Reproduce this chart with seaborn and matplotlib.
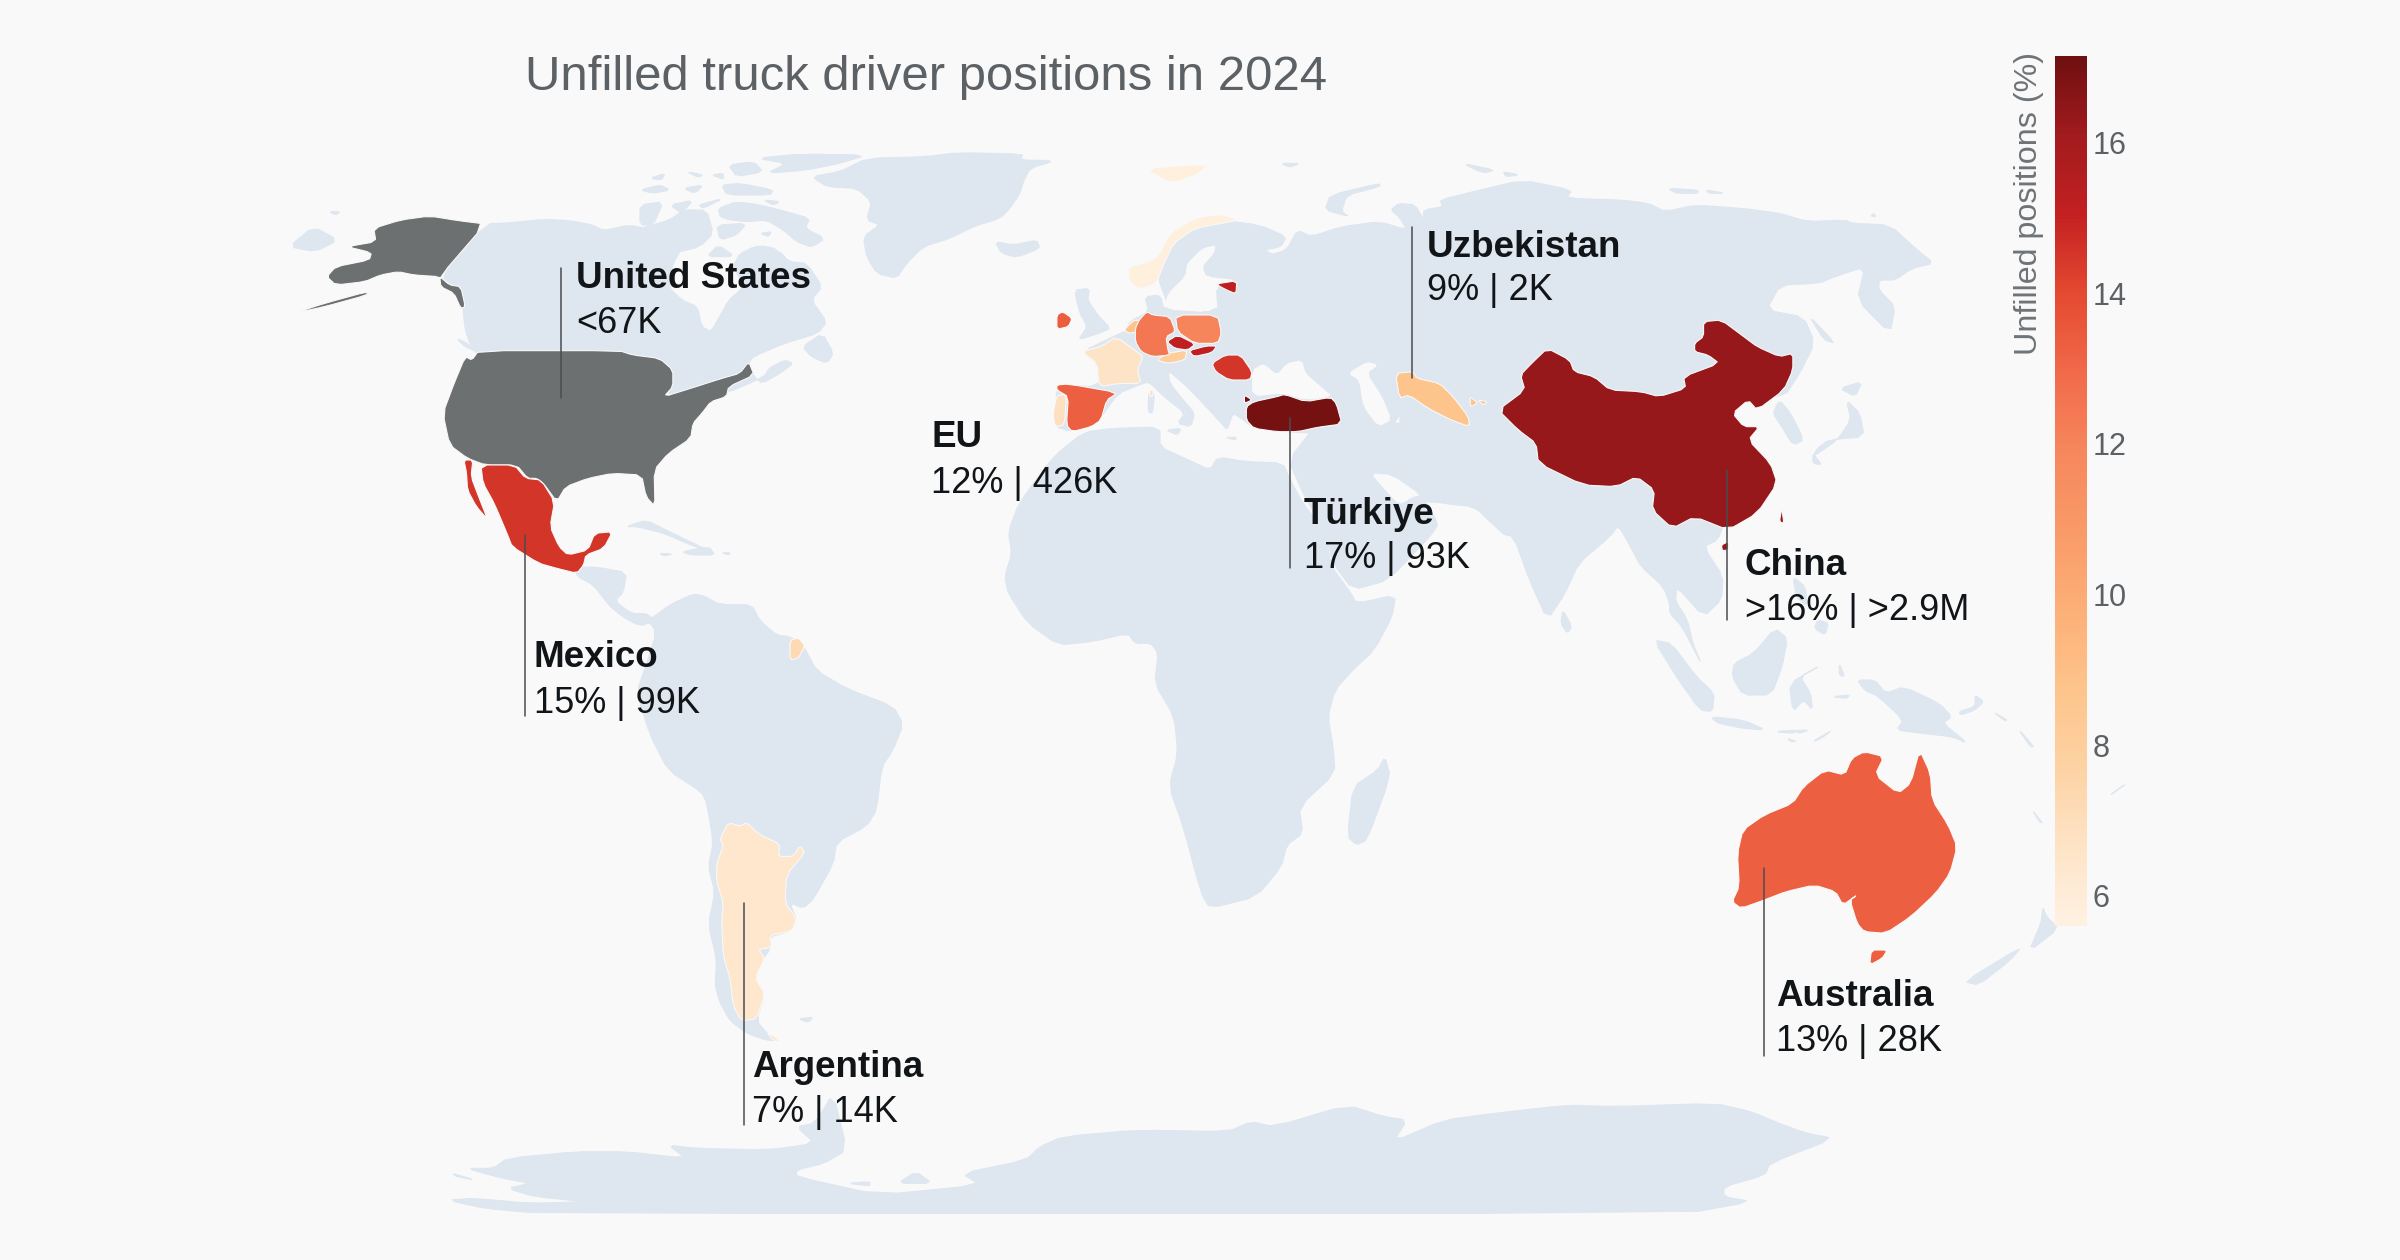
import numpy as np
import seaborn as sns
import matplotlib
matplotlib.use('Agg')
import matplotlib.pyplot as plt
from matplotlib.cm import ScalarMappable
from matplotlib.colors import Normalize

BG = '#f9f9f9'
LAND = '#dee6f0'
NO_DATA = '#6d7071'
INK = '#111518'
GREY_TEXT = '#5c6166'
BAR_LABEL_GREY = '#6e7378'

TITLE = 'Unfilled truck driver positions in 2024'
BAR_LABEL = 'Unfilled positions (%)'
BAR_TICKS = [6, 8, 10, 12, 14, 16]
BAR_MIN, BAR_MAX = 5.6, 17.15
RAMP = ['#fff1e2', '#fee3c6', '#fdd2a3', '#fdc48b', '#fcaf77', '#f99a68',
        '#f6875c', '#f16a4a', '#e44a30', '#c42021', '#a21b1e', '#6f0f10']

COUNTRIES = ['Norway', 'France', 'Portugal', 'Argentina', 'Guiana', 'Netherlands', 'Austria',
             'Uzbekistan', 'Germany', 'Poland', 'Spain', 'Ireland', 'Australia', 'Mexico',
             'Romania', 'Czechia', 'Slovakia', 'Estonia', 'China', 'Turkiye']
SHADES = [5.8, 6.6, 6.9, 6.4, 7.2, 8.7, 8, 8.8, 12.5, 12, 13.3, 13.4, 13.3, 14.5,
          14.5, 15.2, 15.2, 15.2, 16.3, 17]

LABEL_NAMES = ['United States', 'EU', 'Türkiye', 'Uzbekistan', 'China', 'Mexico', 'Argentina', 'Australia']
LABEL_VALUES = ['<67K', '12% | 426K', '17% | 93K', '9% | 2K', '>16% | >2.9M', '15% | 99K', '7% | 14K', '13% | 28K']
LABEL_X = [576, 931, 1304, 1427, 1745, 534, 752, 1776]
LABEL_NAME_Y = [288, 447, 524, 257, 575, 667, 1077, 1006]
LABEL_VALUE_Y = [333, 493, 568, 300, 620, 713, 1122, 1051]
LEADER_X = [561, None, 1290, 1412, 1727, 525, 744, 1764]
LEADER_TOP = [268, None, 418, 227, 470, 535, 903, 868]
LEADER_BOTTOM = [398, None, 568, 378, 620, 716, 1125, 1056]

SHEETS = {
    'A': (280, 130, 2.24, 3), 'B': (640, 130, 3, 3), 'C': (900, 200, 2.613, 3),
    'D': (1400, 200, 2.24, 3), 'E': (560, 560, 3, 2.8), 'F': (960, 460, 2.8, 3),
    'G': (1600, 520, 2.8, 3), 'H': (1100, 130, 1.823, 3), 'I': (420, 1080, 1.089, 3),
}

LAND_SHAPES = [
    # canada and arctic
    ('A', [(460, 282), (520, 278), (590, 268), (650, 272), (700, 285), (725, 302), (780, 285), (840, 300),
           (870, 290), (905, 300), (930, 325), (905, 345), (880, 400), (870, 470), (900, 510), (935, 530),
           (945, 590), (965, 605), (985, 560), (1005, 510), (1040, 470), (1015, 410), (1030, 370), (1075, 345),
           (1120, 365), (1140, 395), (1180, 400), (1215, 470), (1190, 510), (1225, 575), (1205, 610),
           (1130, 640), (1060, 680), (1050, 700), (1062, 740), (1080, 760), (1120, 730), (1150, 700),
           (1130, 690), (1095, 715), (1085, 740), (1000, 790), (860, 800), (860, 700), (760, 680), (445, 680),
           (425, 640), (415, 600), (410, 540), (405, 480), (358, 440)]),
    ('A', [(1170, 650), (1215, 610), (1240, 670), (1225, 700), (1190, 680)]),
    ('A', [(20, 350), (75, 290), (130, 330), (80, 365)]),
    ('A', [(110, 245), (135, 245), (125, 255)]),
    ('A', [(395, 625), (420, 640), (440, 665), (415, 650)]),
    ('B', [(235, 235), (290, 215), (360, 225), (420, 240), (510, 265), (495, 295), (555, 325), (515, 352),
           (470, 335), (430, 300), (380, 270), (320, 275), (270, 270), (240, 260)]),
    ('B', [(230, 285), (320, 280), (290, 315), (240, 330)]),
    ('B', [(200, 380), (235, 345), (285, 380)]),
    ('B', [(320, 355), (400, 350), (420, 380), (360, 370)]),
    ('B', [(360, 310), (395, 305), (385, 320)]),
    ('B', [(350, 85), (480, 72), (680, 75), (600, 100), (500, 120), (380, 130), (440, 100)]),
    ('B', [(265, 105), (340, 95), (370, 125), (290, 140)]),
    ('B', [(300, 160), (400, 180), (390, 195), (260, 195), (245, 165)]),
    ('B', [(130, 175), (190, 165), (165, 190)]),
    ('B', [(140, 125), (190, 135), (175, 142)]),
    ('B', [(30, 145), (75, 130), (65, 150)]),
    ('B', [(90, 225), (160, 210), (125, 250)]),
    ('B', [(175, 225), (250, 205), (190, 235)]),
    ('B', [(0, 180), (60, 165), (90, 180), (40, 190)]),
    ('B', [(215, 135), (250, 130), (250, 148)]),
    ('B', [(370, 210), (420, 215), (400, 225)]),
    ('B', [(0, 225), (70, 215), (40, 285), (0, 285)]),
    ('B', [(0, 295), (90, 270), (130, 240), (200, 240), (220, 310), (180, 350), (100, 370), (0, 370)]),
    ('B', [(515, 140), (600, 125), (680, 85), (860, 80), (950, 68), (1150, 72), (1140, 90), (1245, 92),
           (1170, 115), (1150, 155), (1140, 190), (1110, 235), (1080, 265), (1000, 290), (930, 325), (850, 350),
           (800, 400), (770, 445), (710, 430), (680, 380), (670, 320), (720, 285), (680, 270), (695, 215),
           (650, 175), (560, 170)]),
    ('B', [(1065, 335), (1120, 345), (1190, 330), (1200, 355), (1130, 382), (1085, 370)]),
    # caribbean and central america
    ('A', [(775, 1190), (820, 1170), (880, 1210), (965, 1265), (920, 1245), (860, 1210), (800, 1190)]),
    ('A', [(900, 1265), (960, 1250), (975, 1275), (920, 1275)]),
    ('A', [(990, 1268), (1008, 1268), (1005, 1275)]),
    ('A', [(850, 1270), (880, 1272), (860, 1278)]),
    ('E', [(50, 20), (110, 20), (200, 35), (190, 90), (165, 115), (215, 150), (260, 150), (285, 170), (240, 185),
           (190, 160), (150, 130), (100, 70), (50, 45)]),
    # south america
    ('E', [(235, 180), (280, 160), (330, 125), (400, 95), (430, 100), (480, 125), (575, 125), (600, 170), (650, 210),
           (690, 215), (730, 240), (770, 310), (860, 360), (1000, 410), (1030, 460), (1000, 530), (965, 580),
           (950, 700), (920, 745), (830, 790), (820, 850), (760, 950), (730, 975), (690, 960), (710, 1010),
           (690, 1040), (630, 1055), (630, 1090), (600, 1130), (585, 1180), (615, 1215), (590, 1290), (620, 1325),
           (660, 1345), (620, 1345), (560, 1325), (510, 1290), (480, 1240), (465, 1190), (470, 1120), (445, 1020),
           (465, 930), (445, 860), (460, 790), (440, 680), (425, 650), (325, 590), (270, 490), (230, 370),
           (260, 290), (290, 200), (250, 155)]),
    ('E', [(715, 1285), (760, 1280), (745, 1295)]),
    # africa
    ('F', [(1095, 400), (1110, 430), (1220, 405), (1210, 470), (1160, 570), (1100, 630), (1050, 690), (1030, 770),
           (1045, 860), (1050, 940), (950, 1040), (960, 1120), (915, 1155), (900, 1220), (830, 1310), (700, 1345),
           (675, 1300), (625, 1100), (585, 980), (610, 880), (600, 770), (545, 670), (555, 580), (535, 550),
           (490, 550), (470, 520), (370, 545), (275, 555), (190, 490), (135, 400), (125, 350), (145, 280),
           (135, 215), (165, 130), (260, -9), (347, -84), (430, -95), (560, -99), (560, -39), (640, 0), (700, 30),
           (722, -9), (800, 5), (904, 9), (925, 60), (960, 130), (1020, 210), (1040, 320)]),
    ('F', [(1190, 890), (1205, 950), (1140, 1140), (1110, 1155), (1085, 1130), (1100, 980), (1170, 930)]),
    # eurasia in overlapping pieces
    ('H', [(125, 530), (105, 440), (115, 360), (135, 310), (220, 270), (290, 285), (340, 320), (330, 350), (300, 360),
           (290, 330), (310, 375), (340, 360), (360, 300), (385, 320), (440, 290), (510, 275), (560, 300), (545, 260),
           (530, 240), (545, 220), (575, 225), (590, 270), (590, 240), (625, 230), (620, 210), (680, 185), (770, 150),
           (860, 180), (850, 205), (950, 210), (1000, 220), (1030, 245), (1085, 225), (1170, 235), (1240, 250),
           (1290, 275), (1360, 270), (1370, 280), (1440, 285), (1490, 360), (1520, 400), (1480, 415), (1450, 450),
           (1420, 450), (1420, 480), (1450, 530), (1440, 610), (1380, 510), (1395, 410), (1340, 440), (1310, 460),
           (1240, 465), (1215, 540), (1283, 561), (1303, 639), (1276, 729), (1247, 801), (1180, 790), (1100, 800),
           (250, 800), (200, 540)]),
    ('C', [(590, 395), (600, 365), (650, 335), (640, 290), (680, 285), (690, 330), (830, 340), (825, 260), (880, 240),
           (1330, 100), (1330, 700), (1040, 700), (920, 680), (885, 650), (870, 640), (855, 690), (840, 670),
           (800, 620), (750, 560), (700, 510), (705, 550), (740, 600), (770, 640), (760, 680), (725, 670), (745, 640),
           (690, 590), (650, 545), (625, 555), (570, 580), (520, 660), (450, 695), (405, 680), (410, 555), (520, 560),
           (515, 490), (475, 455), (585, 395)]),
    ('C', [(455, 270), (495, 265), (490, 300), (520, 350), (550, 385), (520, 400), (465, 420), (490, 380), (470, 340)]),
    ('C', [(650, 575), (665, 580), (660, 640), (648, 635)]),
    ('C', [(695, 690), (735, 685), (725, 705)]),
    ('C', [(850, 712), (880, 712), (875, 720)]),
    ('F', [(1000, -110), (1568, -110), (1568, 215), (1530, 230), (1490, 190), (1440, 140), (1350, 130), (1290, 105),
           (1340, 190), (1320, 225), (1200, 360), (1100, 390), (1045, 310), (1020, 210), (960, 100), (920, 0)]),
    ('D', [(0, 500), (700, 500), (700, 700), (650, 950), (610, 1000), (620, 1180), (610, 1230), (590, 1160), (540, 1100),
           (520, 1050), (490, 975), (470, 1010), (400, 1090), (370, 1180), (330, 1260), (290, 1140), (255, 1010),
           (205, 970), (170, 915), (0, 900)]),
    ('D', [(365, 1230), (385, 1280), (375, 1300), (360, 1270)]),
    ('G', [(50, 20), (110, 100), (130, 150), (165, 145), (195, 250), (195, 280), (230, 320), (285, 435), (260, 370),
           (245, 300), (210, 240), (215, 200), (290, 290), (340, 240), (345, 170), (290, 80), (330, 60), (350, 0),
           (350, -60), (50, -60)]),
    # east asia
    ('D', [(985, 565), (1035, 545), (1020, 590)]),
    ('D', [(1000, 600), (1030, 640), (1040, 710), (960, 720), (935, 745), (925, 770), (980, 720), (1010, 660)]),
    ('D', [(925, 760), (945, 795), (925, 790)]),
    ('D', [(850, 600), (875, 640), (905, 720), (880, 735), (855, 680), (835, 640)]),
    ('D', [(915, 345), (975, 430), (950, 420)]),
    # arctic russia
    ('H', [(410, 240), (420, 195), (510, 160), (510, 170), (450, 195), (440, 245), (455, 260)]),
    ('H', [(330, 100), (365, 100), (345, 112)]),
    ('H', [(660, 100), (720, 120), (700, 130)]),
    ('H', [(735, 125), (765, 135), (740, 140)]),
    ('H', [(1035, 175), (1090, 180), (1090, 190), (1050, 190)]),
    ('H', [(1105, 180), (1140, 190), (1110, 190)]),
    ('H', [(1410, 250), (1415, 260), (1405, 258)]),
    # indonesia, pacific
    ('G', [(150, 360), (200, 370), (270, 470), (320, 520), (315, 575), (280, 570), (220, 480)]),
    ('G', [(310, 590), (400, 600), (465, 630), (400, 625), (330, 610)]),
    ('G', [(490, 635), (550, 630), (540, 640)]),
    ('G', [(540, 632), (585, 630), (560, 640)]),
    ('G', [(595, 665), (650, 630), (620, 655)]),
    ('G', [(525, 655), (550, 665), (535, 665)]),
    ('G', [(375, 430), (430, 400), (490, 325), (525, 355), (510, 440), (480, 525), (400, 525), (370, 470)]),
    ('G', [(530, 490), (620, 435), (560, 470), (590, 520), (595, 570), (570, 540), (540, 575)]),
    ('G', [(670, 430), (685, 470), (670, 465)]),
    ('G', [(650, 530), (700, 525), (690, 535)]),
    ('G', [(720, 480), (770, 480), (800, 520), (850, 500), (950, 550), (985, 590), (960, 610), (1030, 670), (985, 650),
           (900, 640), (830, 630), (850, 600), (780, 530), (740, 510)]),
    ('G', [(1005, 575), (1050, 560), (1050, 525), (1075, 545), (1050, 570), (1010, 585)]),
    ('G', [(1100, 575), (1140, 600), (1135, 603)]),
    ('G', [(1170, 625), (1215, 680), (1205, 680)]),
    ('G', [(1210, 870), (1240, 910), (1230, 905)]),
    ('G', [(1240, 1160), (1250, 1190), (1285, 1225), (1200, 1295), (1235, 1210)]),
    ('G', [(1020, 1385), (1180, 1280), (1150, 1320), (1060, 1395)]),
    ('G', [(1430, 825), (1475, 790), (1440, 815)]),
    ('G', [(540, 170), (575, 200), (580, 260), (550, 230)]),
    ('G', [(610, 300), (640, 310), (630, 345), (600, 325)]),
    # antarctica
    ('I', [(30, 360), (60, 355), (120, 370), (180, 365), (125, 350), (95, 325), (120, 310), (90, 295), (50, 265), (80, 265),
           (95, 235), (170, 215), (225, 215), (290, 235), (270, 195), (300, 205), (380, 210), (430, 190), (410, 140),
           (430, 130), (450, 40), (465, 210), (440, 250), (410, 270), (410, 290), (500, 345), (610, 315), (590, 280),
           (660, 240), (675, 200), (700, 170), (780, 150), (880, 155), (905, 125), (930, 140), (1010, 75), (1050, 110),
           (1075, 120), (1060, 185), (1115, 120), (1170, 100), (1250, 75), (1300, 80), (1410, 70), (1450, 95), (1480, 130),
           (1510, 160), (1540, 175), (1470, 250), (1465, 285), (1420, 320), (1420, 350), (1450, 365), (1380, 400),
           (130, 400), (70, 385)]),
    ('I', [(520, 310), (540, 275), (558, 310)]),
    ('I', [(465, 310), (490, 305), (490, 318)]),
    ('I', [(35, 280), (60, 300), (40, 290)]),
]

# water laid on top of the land pieces
SEA_SHAPES = [
    ('C', [(825, 135), (790, 145), (750, 190), (745, 230), (700, 280), (690, 325), (830, 335), (825, 260), (880, 240),
           (800, 230), (790, 200), (820, 160)]),
    ('C', [(920, 510), (950, 490), (985, 525), (1010, 490), (1050, 480), (1060, 520), (1100, 560), (1130, 590),
           (1060, 600), (1000, 580), (920, 590)]),
    ('C', [(1170, 520), (1220, 485), (1250, 495), (1220, 520), (1260, 590), (1285, 660), (1250, 680), (1210, 620), (1200, 540)]),
    ('F', [(1150, 40), (1210, 45), (1290, 105), (1270, 110), (1230, 135), (1190, 90)]),
]

COUNTRY_SHAPES = {
    'Norway': [('C', [(885, 60), (840, 42), (770, 55), (705, 100), (675, 170), (640, 190), (598, 200), (598, 240), (625, 268),
                      (670, 250), (690, 190), (715, 130), (770, 85), (850, 68)]),
               ('H', [(80, 115), (200, 102), (175, 135), (130, 160)])],
    'France': [('C', [(475, 455), (525, 440), (565, 410), (625, 460), (635, 470), (620, 510), (630, 550), (575, 550),
                      (520, 560), (515, 490)]),
               ('C', [(652, 570), (662, 570), (660, 590), (652, 588)])],
    'Portugal': [('C', [(410, 585), (435, 585), (430, 675), (405, 680), (400, 640)])],
    'Argentina': [('E', [(505, 735), (540, 745), (560, 735), (600, 770), (660, 795), (655, 830), (700, 830), (720, 800),
                         (735, 820), (680, 880), (675, 960), (710, 1005), (695, 1040), (630, 1050), (635, 1085), (595, 1090),
                         (615, 1115), (585, 1170), (615, 1215), (590, 1285), (545, 1290), (520, 1250), (510, 1170),
                         (490, 1110), (485, 1010), (490, 960), (470, 900), (470, 850), (490, 800), (480, 780)]),
                  ('E', [(620, 1322), (660, 1343), (640, 1345)])],
    'Guiana': [('E', [(690, 225), (715, 218), (735, 240), (715, 275), (690, 280)])],
    'Netherlands': [('C', [(585, 390), (610, 362), (625, 360), (620, 395), (600, 400)])],
    'Austria': [('C', [(700, 460), (750, 450), (745, 480), (700, 490), (670, 480)])],
    'Uzbekistan': [('C', [(1295, 520), (1340, 515), (1350, 535), (1410, 550), (1445, 590), (1485, 650), (1488, 680),
                          (1440, 660), (1380, 625), (1330, 585), (1305, 595)]),
                   ('C', [(1490, 590), (1510, 610), (1490, 620)]),
                   ('C', [(1510, 600), (1535, 605), (1525, 615)])],
    'Germany': [('C', [(645, 335), (660, 345), (705, 350), (720, 395), (695, 410), (700, 450), (705, 465), (660, 470),
                       (630, 455), (615, 425), (615, 385), (625, 360)])],
    'Poland': [('C', [(720, 345), (830, 345), (840, 400), (830, 430), (770, 430), (725, 395)])],
    'Spain': [('C', [(410, 555), (440, 552), (570, 578), (540, 600), (525, 660), (500, 680), (450, 695), (435, 675),
                     (440, 590), (410, 570)])],
    'Ireland': [('C', [(425, 335), (450, 355), (440, 380), (410, 388), (410, 345)])],
    'Australia': [('G', [(740, 695), (795, 710), (770, 765), (835, 820), (870, 790), (895, 690), (925, 760), (930, 840),
                         (975, 915), (1000, 980), (980, 1060), (940, 1120), (870, 1190), (800, 1240), (740, 1235),
                         (720, 1210), (700, 1140), (720, 1125), (680, 1155), (660, 1115), (600, 1095), (520, 1115),
                         (460, 1140), (395, 1165), (370, 1145), (390, 1100), (385, 1000), (400, 930), (460, 885),
                         (540, 850), (570, 800), (630, 750), (685, 765), (705, 715)]),
                  ('G', [(760, 1290), (805, 1290), (790, 1315), (755, 1335)])],
    'Mexico': [('A', [(450, 1005), (525, 1005), (550, 1045), (585, 1050), (615, 1115), (605, 1190), (625, 1250), (645, 1275),
                      (690, 1260), (705, 1210), (745, 1205), (725, 1255), (685, 1275), (680, 1305), (665, 1330), (620, 1315),
                      (580, 1300), (520, 1250), (510, 1215), (480, 1120), (455, 1060)]),
               ('A', [(412, 990), (432, 990), (428, 1040), (445, 1100), (465, 1168), (440, 1130), (420, 1080), (418, 1030)])],
    'Romania': [('C', [(815, 490), (850, 465), (890, 465), (920, 515), (915, 540), (860, 540), (825, 515)])],
    'Czechia': [('C', [(697, 425), (725, 405), (772, 432), (752, 450), (718, 445)])],
    'Slovakia': [('C', [(755, 452), (800, 438), (828, 438), (815, 458), (768, 470)])],
    'Estonia': [('C', [(825, 252), (880, 242), (878, 282), (850, 268)])],
    'China': [('D', [(330, 445), (380, 480), (390, 515), (435, 530), (470, 570), (540, 575), (580, 590), (640, 565), (635, 530),
                     (715, 490), (690, 465), (660, 455), (660, 430), (680, 410), (680, 365), (720, 360), (770, 410), (800, 440),
                     (850, 470), (880, 460), (880, 510), (860, 570), (800, 630), (780, 600), (745, 640), (770, 680), (805, 680),
                     (780, 720), (830, 790), (845, 850), (800, 940), (735, 990), (660, 950), (610, 985), (565, 930), (570, 870),
                     (530, 830), (485, 860), (410, 855), (310, 790), (305, 730), (265, 690), (220, 630), (280, 570), (270, 525),
                     (295, 490)]),
              ('D', [(720, 1035), (735, 1025), (735, 1050), (722, 1052)]),
              ('D', [(855, 925), (860, 970), (850, 965)])],
    'Turkiye': [('C', [(905, 620), (925, 605), (985, 590), (1005, 583), (1060, 605), (1125, 592), (1140, 610), (1155, 672),
                       (1090, 682), (1040, 695), (985, 695), (925, 685), (905, 660)]),
                ('C', [(900, 585), (920, 600), (900, 610)])],
}

US_SHAPES = [
    ('A', [(445, 662), (760, 662), (790, 675), (850, 685), (880, 720), (880, 770), (860, 800), (920, 775), (990, 745), (1030, 730),
           (1050, 695), (1062, 735), (1005, 770), (1000, 800), (965, 815), (945, 850), (925, 880), (920, 925), (870, 970),
           (838, 1020), (840, 1130), (820, 1100), (810, 1035), (745, 1030), (690, 1045), (640, 1070), (620, 1115), (590, 1060),
           (575, 1045), (555, 1045), (530, 1005), (460, 1005), (420, 985), (380, 945), (365, 850), (390, 760), (415, 680),
           (430, 690)]),
    ('A', [(460, 282), (400, 272), (335, 258), (270, 270), (210, 295), (215, 335), (150, 350), (205, 368), (200, 390), (125, 410),
           (105, 440), (125, 465), (190, 455), (225, 435), (265, 425), (300, 435), (358, 440), (380, 465), (405, 470), (415, 530),
           (405, 535), (390, 490), (360, 470), (358, 440)]),
    ('A', [(30, 550), (100, 520), (195, 485), (195, 495), (100, 530)]),
]


def unpack(sheet, pts):
    x0, y0, sx, sy = SHEETS[sheet]
    arr = np.array(pts, dtype=float)
    # cut the corners a little so the traced coast is not so angular
    nxt = np.roll(arr, -1, axis=0)
    arr = np.column_stack([0.82 * arr + 0.18 * nxt, 0.18 * arr + 0.82 * nxt]).reshape(-1, 2)
    return x0 + arr[:, 0] / sx, y0 + arr[:, 1] / sy


sns.set_theme(style='white', rc={'figure.facecolor': BG, 'axes.facecolor': BG, 'savefig.facecolor': BG})
plt.rcParams['font.family'] = ['Liberation Sans', 'DejaVu Sans']

cmap = sns.blend_palette(RAMP, as_cmap=True)
norm = Normalize(BAR_MIN, BAR_MAX)

fig = plt.figure(figsize=(24, 12.6), dpi=100)
ax = fig.add_axes([0, 0, 1, 1])
ax.set_xlim(0, 2400)
ax.set_ylim(1260, 0)
ax.axis('off')

for sheet, pts in LAND_SHAPES:
    ax.fill(*unpack(sheet, pts), color=LAND, lw=0.8, zorder=1)
for sheet, pts in SEA_SHAPES:
    ax.fill(*unpack(sheet, pts), color=BG, lw=0, zorder=2)
for sheet, pts in US_SHAPES:
    ax.fill(*unpack(sheet, pts), facecolor=NO_DATA, edgecolor=BG, lw=0.8, zorder=3)
for name, shade in zip(COUNTRIES, SHADES):
    for sheet, pts in COUNTRY_SHAPES[name]:
        ax.fill(*unpack(sheet, pts), facecolor=cmap(norm(shade)), edgecolor=BG, lw=0.8, zorder=3)

for i, name in enumerate(LABEL_NAMES):
    if LEADER_X[i] is not None:
        ax.plot([LEADER_X[i], LEADER_X[i]], [LEADER_TOP[i], LEADER_BOTTOM[i]], color='#4a4d50', lw=1.1, zorder=4)
    ax.text(LABEL_X[i], LABEL_NAME_Y[i], name, fontsize=26.5, fontweight='bold', color=INK, va='baseline', zorder=5)
    ax.text(LABEL_X[i], LABEL_VALUE_Y[i], LABEL_VALUES[i], fontsize=26, color=INK, va='baseline', zorder=5)

ax.text(525, 90, TITLE, fontsize=35.4, color=GREY_TEXT, va='baseline')

cax = fig.add_axes([2055 / 2400, 1 - 926 / 1260, 32 / 2400, 870 / 1260])
bar = fig.colorbar(ScalarMappable(norm=norm, cmap=cmap), cax=cax, ticks=BAR_TICKS)
bar.outline.set_visible(False)
bar.ax.tick_params(length=0, pad=4, labelsize=22, labelcolor=GREY_TEXT)
ax.text(2029, 52, BAR_LABEL, rotation=90, fontsize=23.2, color=BAR_LABEL_GREY, ha='center', va='top')

fig.savefig('out.png', dpi=100)
